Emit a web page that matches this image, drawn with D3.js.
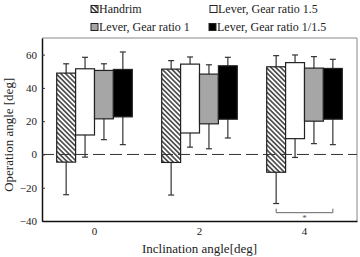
<!DOCTYPE html>
<html>
<head>
  <meta charset="utf8">
  <script src="https://d3js.org/d3.v7.min.js"></script>
  <style>
    body { margin: 0; background: #fff; }
    svg text { font-family: "Liberation Serif", "Times New Roman", "DejaVu Serif", serif !important; fill: #222; }
  </style>
</head>
<body>
  <svg id="chart" width="360" height="257"></svg>
  <script>
    var categories = ['0', '2', '4'];
    var series = ['Handrim', 'Lever, Gear ratio 1.5', 'Lever, Gear ratio 1', 'Lever, Gear ratio 1/1.5'];
    var legendOrder = ['Handrim', 'Lever, Gear ratio 1.5', 'Lever, Gear ratio 1', 'Lever, Gear ratio 1/1.5'];
    var yTicks = [-40, -20, 0, 20, 40, 60];

    // per series, one value per inclination angle
    var barTop = [
      [48.9, 51.3, 52.7],
      [51.5, 54.3, 55.2],
      [50.5, 48.3, 51.9],
      [51.1, 53.3, 51.7]
    ];
    var barBottom = [
      [-4.6, -4.8, -10.7],
      [11.7, 12.9, 9.5],
      [21.4, 18.4, 20.0],
      [22.6, 21.2, 21.2]
    ];
    var errTop = [
      [54.5, 56.4, 59.4],
      [58.4, 58.6, 59.8],
      [54.5, 53.9, 58.8],
      [61.6, 58.4, 57.2]
    ];
    var errBottom = [
      [-24.2, -24.4, -29.5],
      [-1.6, 4.4, -1.8],
      [8.9, 3.4, 6.5],
      [5.9, 9.9, 5.9]
    ];

    var svg = d3.select('#chart');
    var margin = { top: 38, right: 3, bottom: 36, left: 42 };
    var width = 360 - margin.left - margin.right;
    var height = 257 - margin.top - margin.bottom;

    var defs = svg.append('defs');
    var pat = defs.append('pattern')
      .attr('id', 'hatch')
      .attr('patternUnits', 'userSpaceOnUse')
      .attr('width', 3.4).attr('height', 3.4)
      .attr('patternTransform', 'rotate(-45)');
    pat.append('rect').attr('width', 3.4).attr('height', 3.4).attr('fill', '#fff');
    pat.append('line').attr('x1', 1.7).attr('y1', 0).attr('x2', 1.7).attr('y2', 3.4)
      .attr('stroke', '#1a1a1a').attr('stroke-width', 1.3);

    var fills = ['url(#hatch)', '#fff', '#a6a6a6', '#000'];

    var x0 = d3.scaleBand().domain(categories).range([0, width]).padding(0);
    var x1 = d3.scaleBand().domain(series)
      .range([x0.bandwidth() * 0.14, x0.bandwidth() * 0.86]).padding(0);
    var y = d3.scaleLinear().domain([-40, 70]).range([height, 0]);

    var g = svg.append('g')
      .attr('transform', 'translate(' + margin.left + ',' + margin.top + ')');

    // frame
    g.append('line').attr('x1', 0).attr('x2', width).attr('y1', 0).attr('y2', 0)
      .attr('stroke', '#888').attr('stroke-width', 1);
    g.append('line').attr('x1', width).attr('x2', width).attr('y1', 0).attr('y2', height)
      .attr('stroke', '#888').attr('stroke-width', 1);

    // y axis
    var yAxis = g.append('g')
      .call(d3.axisLeft(y).tickValues(yTicks).tickSizeInner(-3).tickSizeOuter(0).tickPadding(5));
    yAxis.attr('font-family', null);
    yAxis.select('.domain').attr('stroke', '#111').attr('stroke-width', 1.5);
    yAxis.selectAll('.tick line').attr('stroke', '#333');
    yAxis.selectAll('text').style('font-size', '11px');

    // x axis
    var xAxis = g.append('g')
      .attr('transform', 'translate(0,' + height + ')')
      .call(d3.axisBottom(x0).tickSize(0).tickPadding(6));
    xAxis.attr('font-family', null);
    xAxis.select('.domain').attr('stroke', '#111').attr('stroke-width', 1.5);
    xAxis.selectAll('text').style('font-size', '11px');

    // axis titles
    g.append('text')
      .attr('x', width / 2).attr('y', height + 32)
      .attr('text-anchor', 'middle').style('font-size', '13px')
      .text('Inclination angle[deg]');
    g.append('text')
      .attr('transform', 'rotate(-90)')
      .attr('x', -(y(-40) + y(60)) / 2 + 3).attr('y', -29)
      .attr('text-anchor', 'middle').style('font-size', '13px')
      .text('Operation angle [deg]');

    // bars with error whiskers
    var rows = [];
    series.forEach(function (s, i) {
      categories.forEach(function (c, j) {
        rows.push({ s: s, i: i, c: c, top: barTop[i][j], bot: barBottom[i][j],
          eTop: errTop[i][j], eBot: errBottom[i][j] });
      });
    });

    var cap = 3;
    var marks = g.selectAll('g.bar').data(rows).enter().append('g').attr('class', 'bar');
    marks.append('line')
      .attr('x1', function (d) { return x0(d.c) + x1(d.s) + x1.bandwidth() / 2; })
      .attr('x2', function (d) { return x0(d.c) + x1(d.s) + x1.bandwidth() / 2; })
      .attr('y1', function (d) { return y(d.eTop); })
      .attr('y2', function (d) { return y(d.eBot); })
      .attr('stroke', '#333').attr('stroke-width', 1.2);
    ['eTop', 'eBot'].forEach(function (k) {
      marks.append('line')
        .attr('x1', function (d) { return x0(d.c) + x1(d.s) + x1.bandwidth() / 2 - cap; })
        .attr('x2', function (d) { return x0(d.c) + x1(d.s) + x1.bandwidth() / 2 + cap; })
        .attr('y1', function (d) { return y(d[k]); })
        .attr('y2', function (d) { return y(d[k]); })
        .attr('stroke', '#333').attr('stroke-width', 1.2);
    });
    marks.append('rect')
      .attr('x', function (d) { return x0(d.c) + x1(d.s); })
      .attr('y', function (d) { return y(d.top); })
      .attr('width', x1.bandwidth())
      .attr('height', function (d) { return y(d.bot) - y(d.top); })
      .attr('fill', function (d) { return fills[d.i]; })
      .attr('stroke', '#222').attr('stroke-width', 1.2);

    // zero line
    g.append('line')
      .attr('x1', 0).attr('x2', width).attr('y1', y(0)).attr('y2', y(0))
      .attr('stroke', '#333').attr('stroke-width', 1)
      .attr('stroke-dasharray', '12,5');

    // significance bracket at 4 deg
    var bx1 = x0('4') + x1(series[0]) + x1.bandwidth() / 2;
    var bx2 = x0('4') + x1(series[3]) + x1.bandwidth() / 2;
    var by = y(-35);
    g.append('path')
      .attr('d', 'M' + bx1 + ',' + (by - 4) + 'V' + by + 'H' + bx2 + 'V' + (by - 4))
      .attr('fill', 'none').attr('stroke', '#666').attr('stroke-width', 1);
    g.append('text')
      .attr('x', (bx1 + bx2) / 2).attr('y', by + 8)
      .attr('text-anchor', 'middle').style('font-size', '9px').style('fill', '#555')
      .text('*');

    // legend
    var legendPos = [[91, 9], [210, 9], [91, 27], [209, 27]];
    legendOrder.forEach(function (s, k) {
      var i = series.indexOf(s);
      var lg = svg.append('g')
        .attr('transform', 'translate(' + legendPos[k][0] + ',' + legendPos[k][1] + ')');
      lg.append('rect').attr('x', 0).attr('y', -3.5).attr('width', 7).attr('height', 7)
        .attr('fill', fills[i]).attr('stroke', '#222').attr('stroke-width', 1);
      lg.append('text').attr('x', 8).attr('y', 4)
        .style('font-size', '12px').text(s);
    });
  </script>
</body>
</html>
